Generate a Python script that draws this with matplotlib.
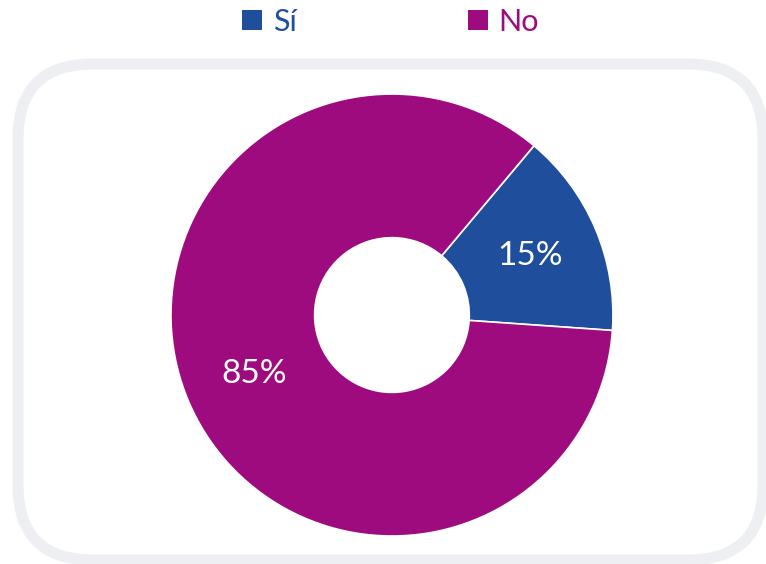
import matplotlib.pyplot as plt
import numpy as np
from matplotlib.patches import FancyBboxPatch, Patch

labels = ['Sí', 'No']
values = [15, 85]
colors = ['#1F4E9C', '#9E0B7E']
pct_text = ['15%', '85%']

plt.rcParams['font.family'] = ['Lato', 'DejaVu Sans']

fig = plt.figure(figsize=(7.66, 5.64), dpi=100)

# background frame drawn in pixel coordinates
bg = fig.add_axes([0, 0, 1, 1])
bg.set_xlim(0, 766)
bg.set_ylim(564, 0)
bg.axis('off')
frame = FancyBboxPatch((18, 64), 745, 496, boxstyle='round,pad=0,rounding_size=75',
                       facecolor='white', edgecolor='#EEEFF3', linewidth=8)
bg.add_patch(frame)

ax = fig.add_axes([0.2232, 0.0496, 0.577, 0.7837])
wedges, _ = ax.pie(values, colors=colors, startangle=50, counterclock=False,
                   radius=1, wedgeprops=dict(width=0.65, edgecolor='white', linewidth=1.2))
ax.set_xlim(-1, 1)
ax.set_ylim(-1, 1)
ax.set_aspect('equal')

start = 50
for v, t in zip(values, pct_text):
    mid = np.deg2rad(start - v * 3.6 / 2)
    ax.text(0.68 * np.cos(mid), 0.68 * np.sin(mid), t, color='white', fontsize=24,
            ha='center', va='center')
    start -= v * 3.6

handles = [Patch(facecolor=c, edgecolor='none') for c in colors]
leg = fig.legend(handles, labels, loc='center', bbox_to_anchor=(0.51, 0.961), ncol=2,
                 frameon=False, fontsize=22, handlelength=0.65, handleheight=0.65,
                 handletextpad=0.35, columnspacing=5.6)
for txt, c in zip(leg.get_texts(), colors):
    txt.set_color(c)

fig.savefig('out.png', dpi=100)
